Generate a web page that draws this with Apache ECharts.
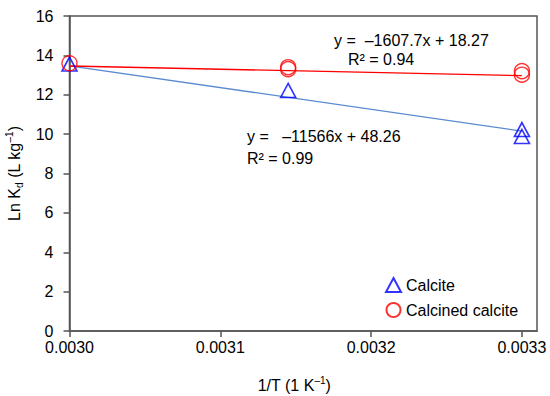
<!DOCTYPE html>
<html>
<head>
<meta charset="utf-8">
<script src="https://cdn.jsdelivr.net/npm/echarts@6/dist/echarts.min.js"></script>
<style>
html,body{margin:0;padding:0;background:#fff;}
#chart{width:550px;height:396px;}
</style>
</head>
<body>
<div id="chart"></div>
<script>
// Data
const xTicks = [0.0030, 0.0031, 0.0032, 0.0033];
const calcitePoints = [[0.0030, 13.56], [0.003145, 12.22], [0.0033, 10.23], [0.0033, 9.88]];
const calcinedPoints = [[0.0030, 13.6], [0.003145, 13.4], [0.003145, 13.3], [0.0033, 13.2], [0.0033, 13.02]];
const calciteTrend = [[0.0030, 13.47], [0.0033, 10.15]];
const calcinedTrend = [[0.0030, 13.46], [0.0033, 12.97]];
const seriesNames = ['Calcite', 'Calcined calcite'];
const annotations = ['y =  \u20131607.7x + 18.27', 'R\u00b2 = 0.94', 'y =   \u201311566x + 48.26', 'R\u00b2 = 0.99'];

const FONT = 'Liberation Sans, Arial, sans-serif';
const chart = echarts.init(document.getElementById('chart'), null, {renderer: 'svg'});
const axisLineStyle = {color: '#555', width: 1.5};

chart.setOption({
  animation: false,
  backgroundColor: '#fff',
  grid: {left: 69.5, right: 13, top: 16, bottom: 65, show: true, borderColor: '#555', borderWidth: 1.5,
    backgroundColor: 'transparent', containLabel: false, outerBoundsMode: 'none'},
  xAxis: {
    type: 'value', min: 0.0030, max: 0.00331, interval: 0.0001,
    splitLine: {show: false},
    axisLine: {lineStyle: axisLineStyle},
    axisTick: {show: true, length: 6, lineStyle: axisLineStyle, customValues: xTicks},
    axisLabel: {color: '#000', fontSize: 16, fontFamily: FONT, margin: 8, customValues: xTicks,
      formatter: v => v.toFixed(4)},
    name: '1/T (1 K{sup|\u20131})',
    nameLocation: 'middle', nameGap: 44,
    nameTextStyle: {color: '#000', fontSize: 16, fontFamily: FONT, lineHeight: 20, padding: [0, 18, 0, 0],
      rich: {sup: {fontSize: 10, fontFamily: FONT, color: '#000', verticalAlign: 'top', lineHeight: 20}}}
  },
  yAxis: {
    type: 'value', min: 0, max: 16, interval: 2,
    splitLine: {show: false},
    axisLine: {lineStyle: axisLineStyle},
    axisTick: {show: true, length: 6, lineStyle: axisLineStyle},
    axisLabel: {color: '#000', fontSize: 16, fontFamily: FONT, margin: 16, lineHeight: 16, padding: [0, 0, 3, 0]},
    name: 'Ln K{sub|d} (L kg{sup|\u20131})',
    nameLocation: 'middle', nameGap: 44, nameRotate: 90,
    nameTextStyle: {color: '#000', fontSize: 16, fontFamily: FONT, lineHeight: 20,
      rich: {
        sub: {fontSize: 10, fontFamily: FONT, color: '#000', verticalAlign: 'bottom', lineHeight: 20},
        sup: {fontSize: 10, fontFamily: FONT, color: '#000', verticalAlign: 'top', lineHeight: 20}
      }}
  },
  legend: {
    data: seriesNames, orient: 'vertical', left: 380, top: 272,
    itemWidth: 15, itemHeight: 14, itemGap: 9,
    textStyle: {color: '#000', fontSize: 16, fontFamily: FONT}
  },
  series: [
    {type: 'line', data: calciteTrend, symbol: 'none', lineStyle: {color: '#5a8ad0', width: 1.3}, silent: true, z: 1},
    {type: 'line', data: calcinedTrend, symbol: 'none', lineStyle: {color: '#ff0000', width: 1.3}, silent: true, z: 1},
    {name: seriesNames[0], type: 'scatter', data: calcitePoints, symbol: 'triangle', symbolSize: [15, 14],
      itemStyle: {color: 'rgba(255,255,255,0)', borderColor: '#0000ff', borderWidth: 1.6}, z: 3},
    {name: seriesNames[1], type: 'scatter', data: calcinedPoints, symbol: 'circle', symbolSize: 15,
      itemStyle: {color: 'rgba(255,255,255,0)', borderColor: '#ff0000', borderWidth: 1.4}, z: 3}
  ],
  graphic: [
    {type: 'text', x: 334, y: 40, style: {text: annotations[0], font: '16px ' + FONT, fill: '#000', verticalAlign: 'middle'}},
    {type: 'text', x: 348, y: 59, style: {text: annotations[1], font: '16px ' + FONT, fill: '#000', verticalAlign: 'middle'}},
    {type: 'text', x: 247, y: 136, style: {text: annotations[2], font: '16px ' + FONT, fill: '#000', verticalAlign: 'middle'}},
    {type: 'text', x: 247, y: 158, style: {text: annotations[3], font: '16px ' + FONT, fill: '#000', verticalAlign: 'middle'}}
  ]
});
</script>
</body>
</html>
